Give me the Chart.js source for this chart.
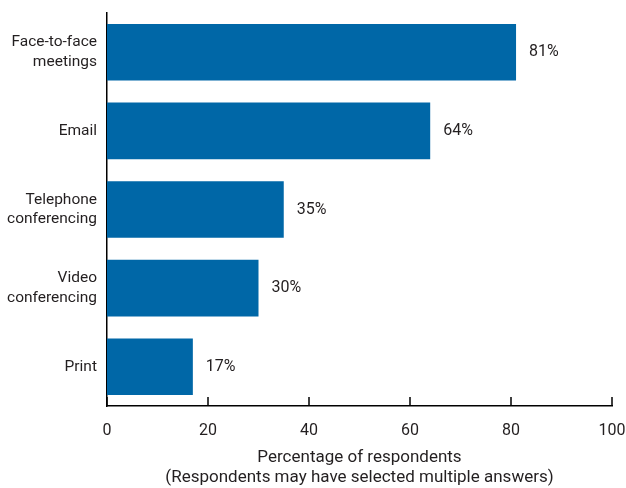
<!DOCTYPE html>
<html>
<head>
<meta charset="utf-8">
<script src="https://cdn.jsdelivr.net/npm/chart.js@4"></script>
<style>
  html, body { margin: 0; padding: 0; background: #fff; }
  #wrap { width: 626px; height: 488px; }
</style>
</head>
<body>
<div id="wrap"><canvas id="Chart"></canvas></div>
<script>
const categories = [["Face-to-face", "meetings"], "Email", ["Telephone", "conferencing"], ["Video", "conferencing"], "Print"];
const values = [81, 64, 35, 30, 17];
const xTicks = [0, 20, 40, 60, 80, 100];
const axisTitle = ["Percentage of respondents", "(Respondents may have selected multiple answers)"];

const textColor = "#231f20";
const fontFamily = "Roboto, 'DejaVu Sans', sans-serif";

// value labels to the right of each bar
const valueLabels = {
    id: "valueLabels",
    afterDatasetsDraw(chart) {
        const ctx = chart.ctx;
        const meta = chart.getDatasetMeta(0);
        ctx.save();
        ctx.font = "16px " + fontFamily;
        ctx.fillStyle = textColor;
        ctx.textAlign = "left";
        ctx.textBaseline = "middle";
        meta.data.forEach((bar, i) => {
            ctx.fillText(values[i] + "%", bar.x + 13, bar.y);
        });
        ctx.restore();
    }
};

// small tick marks pointing up from the x axis
const innerTicks = {
    id: "innerTicks",
    afterDraw(chart) {
        const ctx = chart.ctx;
        const x = chart.scales.x;
        const bottom = chart.chartArea.bottom;
        ctx.save();
        ctx.strokeStyle = "#000";
        ctx.lineWidth = 1.5;
        ctx.beginPath();
        xTicks.forEach(t => {
            const px = Math.round(x.getPixelForValue(t));
            ctx.moveTo(px, bottom - 9);
            ctx.lineTo(px, bottom);
        });
        ctx.stroke();
        ctx.restore();
    }
};

new Chart(document.getElementById("Chart"), {
    type: "bar",
    data: {
        labels: categories,
        datasets: [{
            data: values,
            backgroundColor: "#0067a7",
            barPercentage: 0.8,
            categoryPercentage: 0.9
        }]
    },
    options: {
        indexAxis: "y",
        responsive: true,
        maintainAspectRatio: false,
        animation: false,
        layout: { padding: { top: 13, right: 14, bottom: 0, left: 0 } },
        plugins: { legend: { display: false }, tooltip: { enabled: false } },
        scales: {
            x: {
                min: 0,
                max: 100,
                afterBuildTicks: s => { s.ticks = xTicks.map(v => ({ value: v })); },
                afterFit: s => { s.height = 82; s.paddingLeft = 0; s.paddingRight = 0; },
                grid: { display: false, drawTicks: false },
                border: { display: true, color: "#000", width: 1.5 },
                ticks: { color: textColor, font: { family: fontFamily, size: 16 }, padding: 15, maxRotation: 0 },
                title: {
                    display: true,
                    text: axisTitle,
                    color: textColor,
                    font: { family: fontFamily, size: 17, lineHeight: 1.18 },
                    padding: { top: 8, bottom: 0 }
                }
            },
            y: {
                afterFit: s => { s.width = 107; s.paddingTop = 0; s.paddingBottom = 0; },
                grid: { display: false, drawTicks: false },
                border: { display: true, color: "#000", width: 1.5 },
                ticks: { color: textColor, font: { family: fontFamily, size: 15.5, lineHeight: 1.25 }, padding: 10 }
            }
        }
    },
    plugins: [valueLabels, innerTicks]
});
</script>
</body>
</html>
